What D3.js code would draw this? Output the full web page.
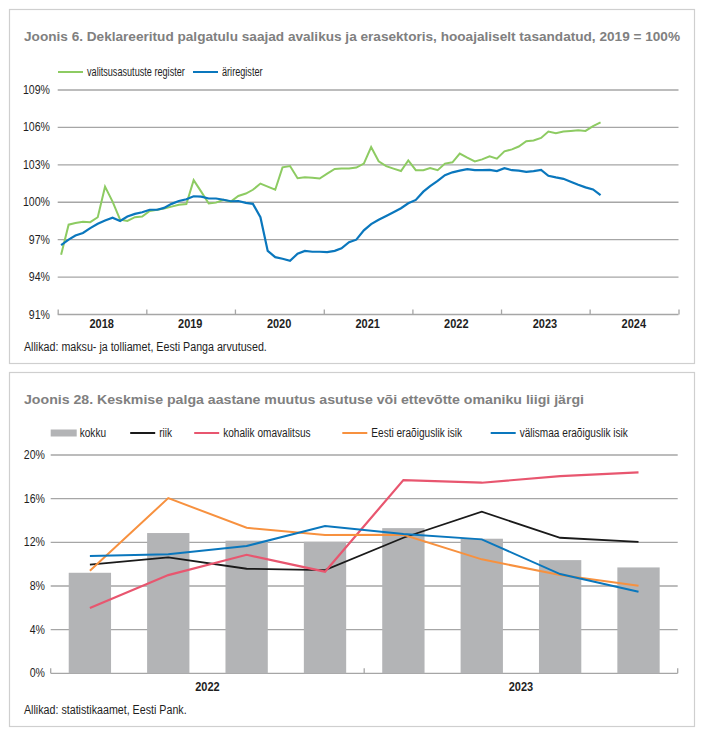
<!DOCTYPE html>
<html>
<head>
<meta charset="utf-8">
<script src="https://cdn.jsdelivr.net/npm/d3@7"></script>
<style>
  body { margin: 0; background: #fff; }
  svg text { font-family: "Liberation Sans", Arial, sans-serif; fill: #1e1e1e; }
  .title { font-weight: bold; fill: #808080; font-size: 13.2px; }
  .grid line { stroke: #a6a6a6; stroke-width: 1.3; }
  .tick text { font-size: 12px; }
  .year { font-weight: bold; font-size: 12.5px; }
  .legend text { font-size: 12px; }
  .source { font-size: 12px; }
</style>
</head>
<body>
<svg id="chart" width="704" height="738"></svg>
<script>
// ---- Joonis 6: monthly indices, Jan 2018 .. Feb 2024 (2019 = 100)
var startMonth = "2018-01";
var valitsus = [
  95.8, 98.2, 98.33, 98.44, 98.4, 98.8, 101.25, 100.05, 98.6, 98.5, 98.8, 98.86,
  99.3, 99.4, 99.5, 99.65, 99.8, 99.85, 101.77, 100.85, 99.9, 99.97, 100.2, 100.05,
  100.5, 100.7, 101.0, 101.5, 101.25, 101.0, 102.8, 102.9, 101.93, 102.0, 101.96, 101.9,
  102.3, 102.67, 102.7, 102.7, 102.78, 103.1, 104.42, 103.28, 102.9, 102.7, 102.5, 103.36,
  102.57, 102.57, 102.75, 102.57, 103.1, 103.2, 103.9, 103.57, 103.28, 103.44, 103.68, 103.5,
  104.08, 104.24, 104.47, 104.9, 104.95, 105.16, 105.67, 105.53, 105.67, 105.72, 105.77, 105.72,
  106.1, 106.4
];
var ari = [
  96.56, 97.0, 97.33, 97.54, 97.93, 98.28, 98.54, 98.76, 98.5, 98.86, 99.07, 99.2,
  99.4, 99.4, 99.55, 99.87, 100.1, 100.24, 100.48, 100.45, 100.3, 100.3, 100.2, 100.08,
  100.1, 99.95, 99.87, 98.8, 96.1, 95.6, 95.47, 95.3, 95.87, 96.1, 96.03, 96.03,
  96.0, 96.1, 96.3, 96.8, 97.0, 97.75, 98.25, 98.6, 98.9, 99.2, 99.52, 99.92,
  100.19, 100.85, 101.3, 101.72, 102.17, 102.4, 102.54, 102.65, 102.57, 102.57, 102.6, 102.5,
  102.73, 102.57, 102.54, 102.44, 102.5, 102.6, 102.12, 101.99, 101.88, 101.64, 101.4, 101.19,
  101.03, 100.58
];
var years1 = [2018, 2019, 2020, 2021, 2022, 2023, 2024];
var yTicks1 = [91, 94, 97, 100, 103, 106, 109];

// ---- Joonis 28: quarterly annual change, %
var quarters = ["2022 I", "2022 II", "2022 III", "2022 IV", "2023 I", "2023 II", "2023 III", "2023 IV"];
var years2 = ["2022", "2023"];
var kokku = [9.21, 12.85, 12.15, 12.05, 13.3, 12.33, 10.37, 9.7];
var riik = [9.95, 10.62, 9.58, 9.46, 12.42, 14.8, 12.42, 12.05];
var kohalik = [5.98, 9.0, 10.86, 9.31, 17.7, 17.46, 18.07, 18.4];
var eesti = [9.4, 16.05, 13.33, 12.66, 12.69, 10.44, 9.0, 8.02];
var valismaa = [10.74, 10.9, 11.66, 13.49, 12.76, 12.27, 9.09, 7.47];
var yTicks2 = [0, 4, 8, 12, 16, 20];

var svg = d3.select("#chart");

// no narrow font installed: squeeze glyphs to mimic the condensed face
function condense(sel, k) {
  sel.each(function() {
    var w = this.getComputedTextLength();
    d3.select(this).attr("textLength", w * k).attr("lengthAdjust", "spacingAndGlyphs");
  });
}

function panel(y0, y1) {
  svg.append("rect")
    .attr("x", 9.5).attr("y", y0 + 0.5)
    .attr("width", 685).attr("height", y1 - y0)
    .attr("fill", "#fff")
    .attr("stroke", "#cfcfcf").attr("stroke-width", 1.2);
}

function legend(g, items, k) {
  items.forEach(function(it) {
    var li = g.append("g").attr("transform", "translate(" + it.x + ",0)");
    if (it.bar) {
      li.append("rect").attr("x", 0).attr("y", -3.5).attr("width", 26).attr("height", 7).attr("fill", it.color);
    } else {
      li.append("line").attr("x1", 0).attr("x2", 25).attr("y1", 0).attr("y2", 0)
        .attr("stroke", it.color).attr("stroke-width", 2);
    }
    li.append("text").attr("x", 29).attr("y", 4.2).text(it.label).call(condense, k);
  });
}

// ================= chart 1 =================
panel(9, 363);
svg.append("text").attr("class", "title").attr("x", 24).attr("y", 41)
  .attr("textLength", 656).attr("lengthAdjust", "spacingAndGlyphs")
  .text("Joonis 6. Deklareeritud palgatulu saajad avalikus ja erasektoris, hooajaliselt tasandatud, 2019 = 100%");

legend(svg.append("g").attr("class", "legend").attr("transform", "translate(58,72)"), [
  {x: 0, color: "#8dcb62", label: "valitsusasutuste register"},
  {x: 135, color: "#0a77bd", label: "äriregister"}
], 0.76);

var parseM = d3.timeParse("%Y-%m");
var t0 = parseM(startMonth);
function monthDate(i) { return d3.timeDay.offset(d3.timeMonth.offset(t0, i), 14); }

var x1 = d3.scaleTime()
  .domain([new Date(2018, 0, 1), new Date(2025, 0, 1)])
  .range([57.7, 678.5]);
var y1 = d3.scaleLinear().domain([91, 109]).range([314.5, 90]);

var g1 = svg.append("g");
g1.append("g").attr("class", "grid")
  .selectAll("line").data(yTicks1).enter().append("line")
  .attr("x1", 57.7).attr("x2", 678.5)
  .attr("y1", function(d) { return y1(d); }).attr("y2", function(d) { return y1(d); });

g1.append("g").attr("class", "tick")
  .selectAll("text").data(yTicks1).enter().append("text")
  .attr("x", 50).attr("y", function(d) { return y1(d) + 4; })
  .attr("text-anchor", "end")
  .text(function(d) { return d + "%"; })
  .call(condense, 0.88);

var xAxis1 = d3.axisBottom(x1)
  .tickValues(years1.concat([2025]).map(function(y) { return new Date(y, 0, 1); }))
  .tickSizeInner(-5).tickSizeOuter(0).tickFormat("");
g1.append("g").attr("transform", "translate(0," + y1(91) + ")").call(xAxis1)
  .call(function(g) {
    g.select(".domain").remove();
    g.selectAll(".tick line").attr("stroke", "#a6a6a6").attr("stroke-width", 1.3);
  });

g1.selectAll(".year").data(years1).enter().append("text")
  .attr("class", "year")
  .attr("x", function(d) { return x1(new Date(d, 6, 1)); })
  .attr("y", 328).attr("text-anchor", "middle")
  .text(function(d) { return d; })
  .call(condense, 0.88);

var line1 = d3.line()
  .x(function(d, i) { return x1(monthDate(i)); })
  .y(function(d) { return y1(d); });

g1.append("path").datum(valitsus).attr("d", line1)
  .attr("fill", "none").attr("stroke", "#8dcb62").attr("stroke-width", 2);
g1.append("path").datum(ari).attr("d", line1)
  .attr("fill", "none").attr("stroke", "#0a77bd").attr("stroke-width", 2.2);

svg.append("text").attr("class", "source").attr("x", 24).attr("y", 351)
  .text("Allikad: maksu- ja tolliamet, Eesti Panga arvutused.")
  .call(condense, 0.89);

// ================= chart 2 =================
panel(372, 726);
svg.append("text").attr("class", "title").attr("x", 24).attr("y", 404)
  .attr("textLength", 560).attr("lengthAdjust", "spacingAndGlyphs")
  .text("Joonis 28. Keskmise palga aastane muutus asutuse või ettevõtte omaniku liigi järgi");

var series = [
  {key: "riik", values: riik, color: "#1a1a1a", width: 1.8},
  {key: "kohalik omavalitsus", values: kohalik, color: "#e8566f", width: 2.2},
  {key: "Eesti eraõiguslik isik", values: eesti, color: "#f7913f", width: 2},
  {key: "välismaa eraõiguslik isik", values: valismaa, color: "#0a77bd", width: 2}
];

legend(svg.append("g").attr("class", "legend").attr("transform", "translate(50.7,433)"), [
  {x: 0, color: "#b3b4b6", label: "kokku", bar: true},
  {x: 79.5, color: series[0].color, label: series[0].key},
  {x: 143.5, color: series[1].color, label: series[1].key},
  {x: 291.6, color: series[2].color, label: series[2].key},
  {x: 440, color: series[3].color, label: series[3].key}
], 0.84);

var x2 = d3.scaleBand().domain(quarters).range([50.7, 677.7]).paddingInner(0.46).paddingOuter(0.23);
var y2 = d3.scaleLinear().domain([0, 20]).range([673.3, 455]);

var g2 = svg.append("g");
g2.append("g").attr("class", "grid")
  .selectAll("line").data(yTicks2).enter().append("line")
  .attr("x1", 50.7).attr("x2", 677.7)
  .attr("y1", function(d) { return y2(d); }).attr("y2", function(d) { return y2(d); });

g2.append("g").attr("class", "tick")
  .selectAll("text").data(yTicks2).enter().append("text")
  .attr("x", 45).attr("y", function(d) { return y2(d) + 4; })
  .attr("text-anchor", "end")
  .text(function(d) { return d + "%"; })
  .call(condense, 0.88);

g2.selectAll(".bar").data(kokku).enter().append("rect")
  .attr("class", "bar")
  .attr("x", function(d, i) { return x2(quarters[i]); })
  .attr("width", x2.bandwidth())
  .attr("y", function(d) { return y2(d); })
  .attr("height", function(d) { return y2(0) - y2(d); })
  .attr("fill", "#b3b4b6");

// year boundary ticks on the category axis
var yearEdges = [x2.range()[0], x2(quarters[4]) - x2.step() * x2.paddingInner() / 2, x2.range()[1]];
g2.selectAll(".ytick").data(yearEdges).enter().append("line")
  .attr("x1", function(d) { return d; }).attr("x2", function(d) { return d; })
  .attr("y1", y2(0)).attr("y2", y2(0) - 5)
  .attr("stroke", "#a6a6a6").attr("stroke-width", 1.3);

g2.selectAll(".year").data(years2).enter().append("text")
  .attr("class", "year")
  .attr("x", function(d, i) { return (yearEdges[i] + yearEdges[i + 1]) / 2; })
  .attr("y", 691).attr("text-anchor", "middle")
  .text(function(d) { return d; })
  .call(condense, 0.88);

var line2 = d3.line()
  .x(function(d, i) { return x2(quarters[i]) + x2.bandwidth() / 2; })
  .y(function(d) { return y2(d); });

series.forEach(function(s) {
  g2.append("path").datum(s.values).attr("d", line2)
    .attr("fill", "none").attr("stroke", s.color).attr("stroke-width", s.width);
});

svg.append("text").attr("class", "source").attr("x", 24).attr("y", 714)
  .text("Allikad: statistikaamet, Eesti Pank.")
  .call(condense, 0.89);
</script>
</body>
</html>
